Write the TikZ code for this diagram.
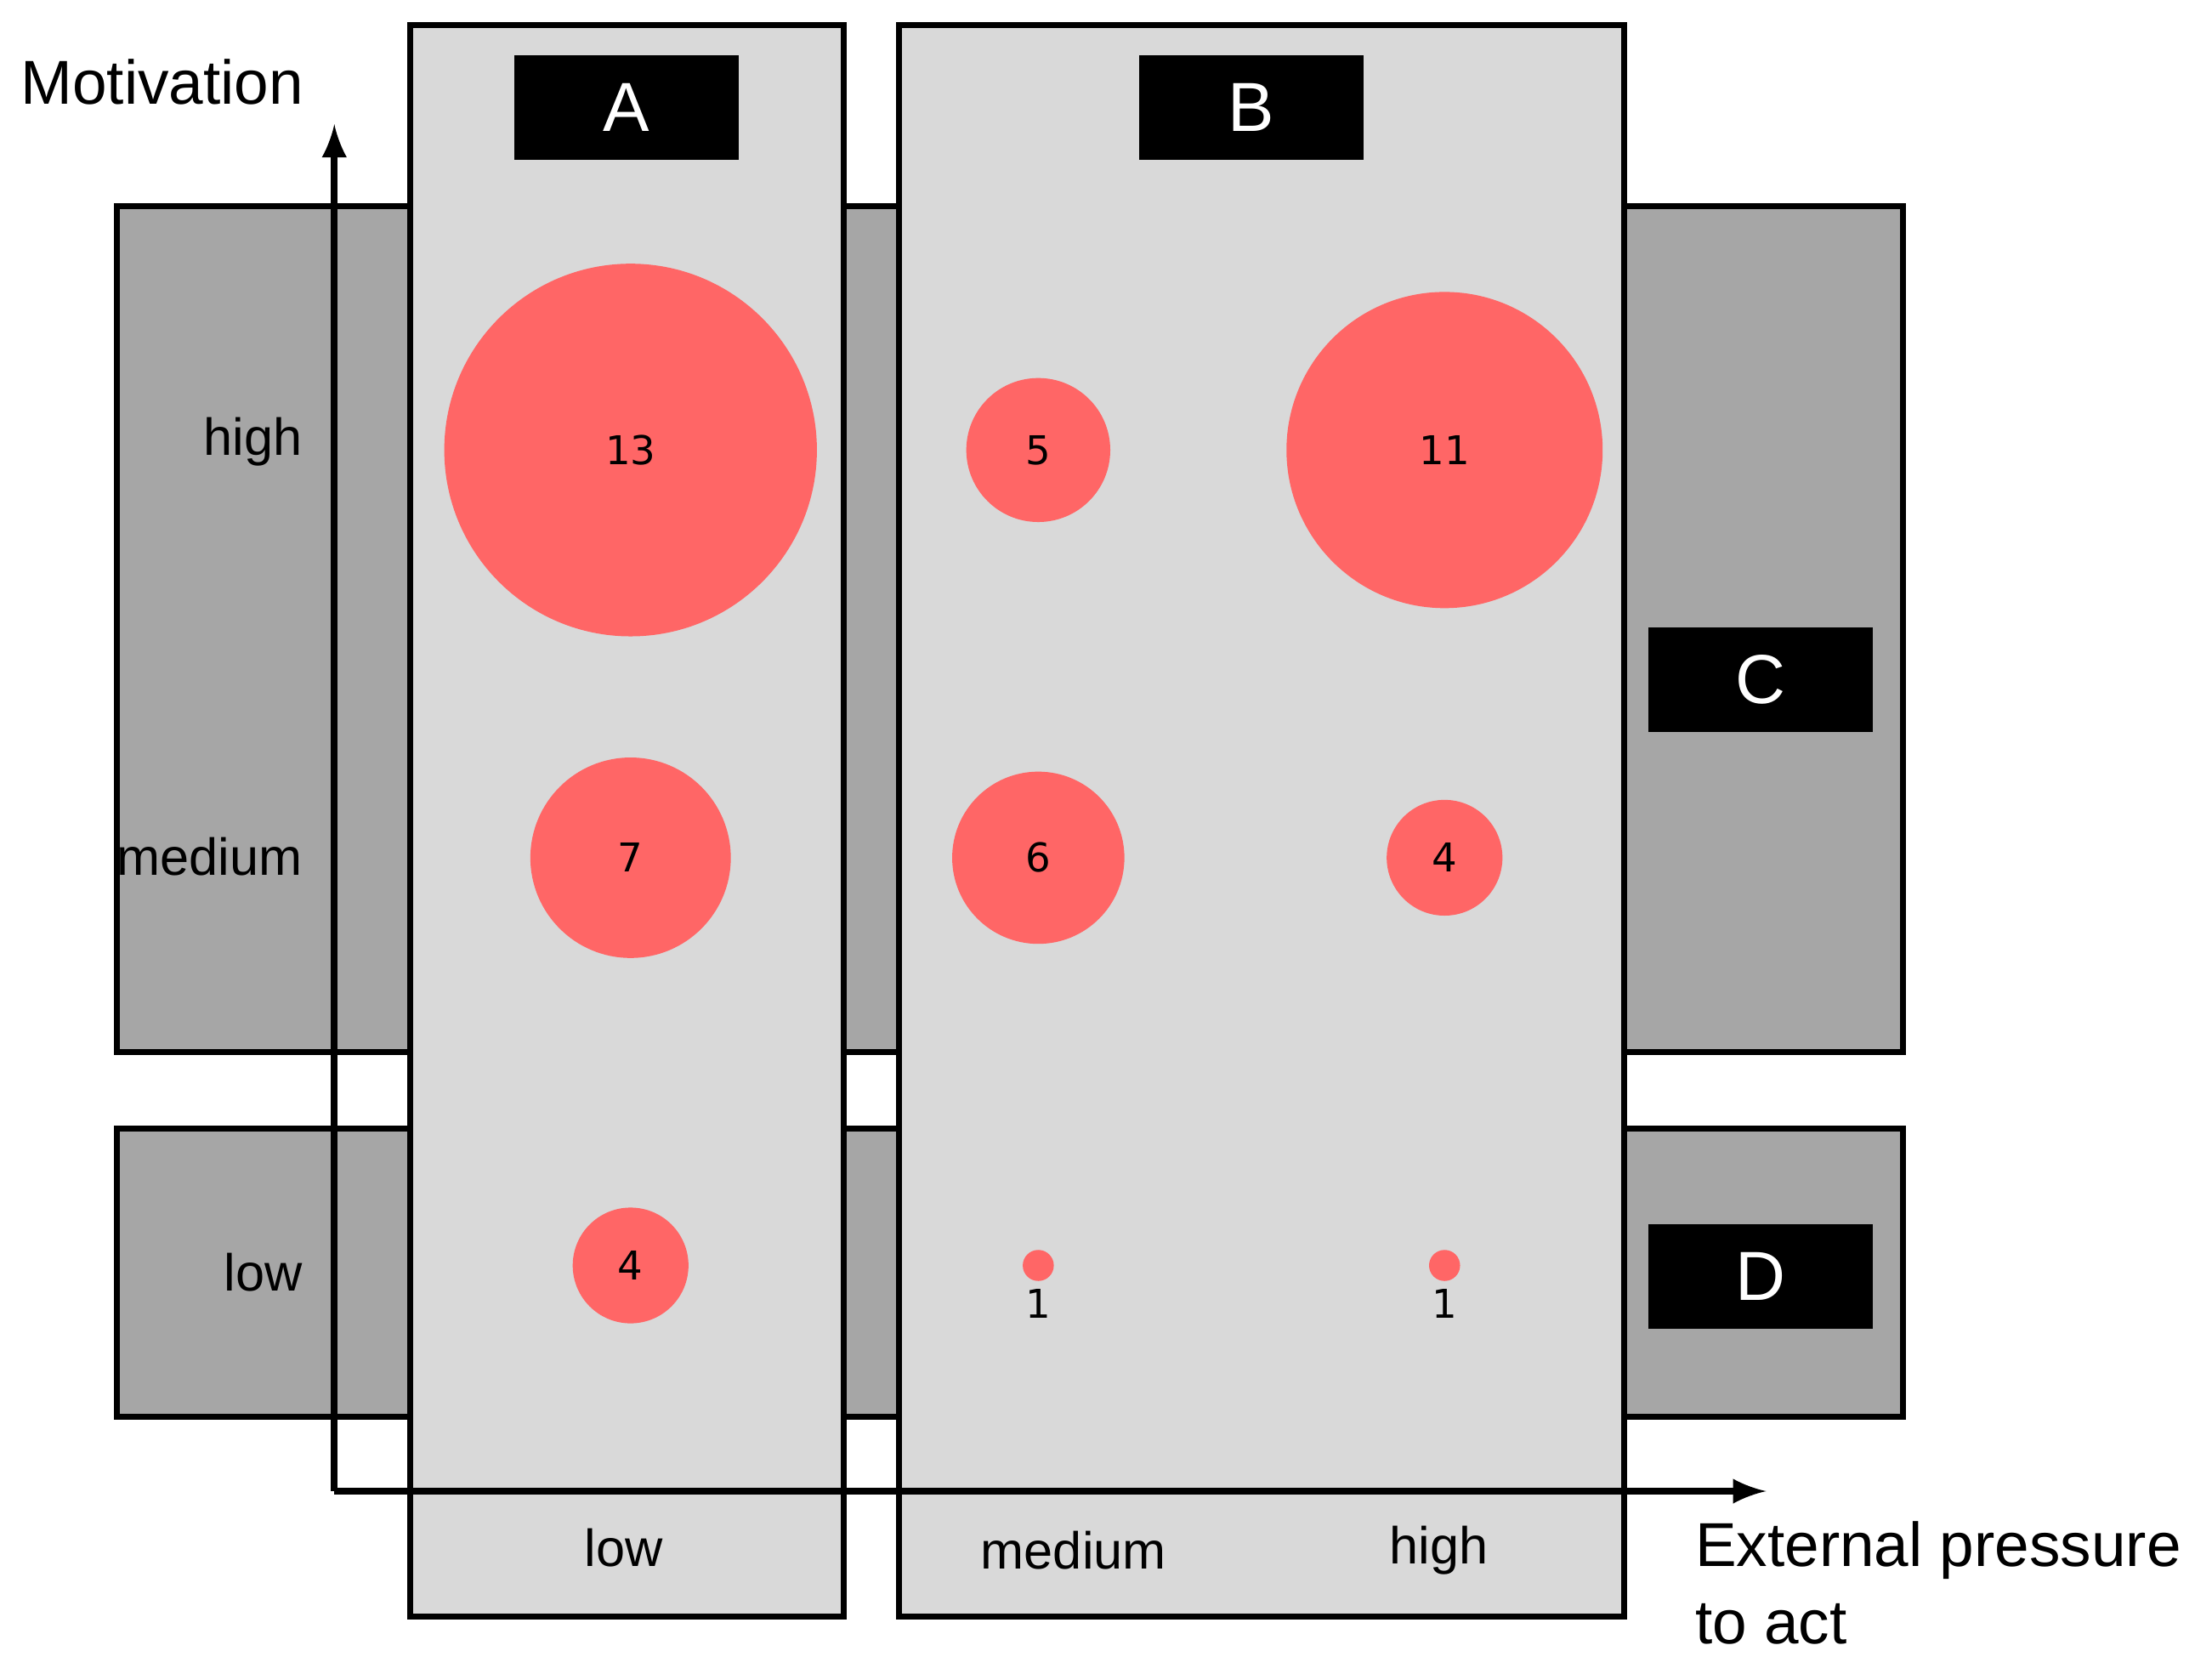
\documentclass[tikz,border=0pt]{standalone}
\usepackage{fontspec}
\setmainfont{Liberation Sans}
\newfontfamily\numf{DejaVu Sans}
\begin{document}
\begin{tikzpicture}[x=0.01cm,y=-0.01cm,
  dark/.style={fill=black!35,draw=black,line width=1.2pt},
  panel/.style={fill=black!15,draw=black,line width=1.2pt},
  tag/.style={fill=black,text=white,minimum width=1.59cm,minimum height=0.74cm,inner sep=0pt,font=\fontsize{14}{14}\selectfont},
  bub/.style={circle,fill={rgb,255:red,255;green,102;blue,102},inner sep=0pt},
  num/.style={font=\numf\fontsize{8}{9}\selectfont},
  lab/.style={font=\fontsize{10.5}{12}\selectfont},
  ax/.style={line width=1.3pt,-latex}]
\useasboundingbox (0,0) rectangle (1568,1182);
\draw[dark] (83,146) rectangle (1349,746);
\draw[dark] (83,800) rectangle (1349,1004);
\draw[panel] (291,18) rectangle (598,1146);
\draw[panel] (637,18) rectangle (1151,1146);
\node[tag] (A) at (444,76) {A};
\node[tag] (B) at (887,76) {B};
\node[tag] (C) at (1248,482) {C};
\node[tag] (D) at (1248,905) {D};
\coordinate (o) at (237,1057);
\coordinate (yt) at (237,88);
\coordinate (xt) at (1252,1057);
\draw[ax] (o) -- (yt);
\draw[ax] (o) -- (xt);
\node[font=\fontsize{12.5}{14}\selectfont] (mot) at (115,58) {Motivation};
\node[lab,anchor=east,inner sep=0pt] (lh) at (215,313) {high};
\node[lab,anchor=east,inner sep=0pt] (lm) at (215,607) {medium};
\node[lab,anchor=east,inner sep=0pt] (ll) at (215,902) {low};
\node[lab] (bl) at (442,1097) {low};
\node[lab] (bm) at (761,1099) {medium};
\node[lab] (bh) at (1020,1099) {high};
\node[font=\fontsize{12.5}{15.6}\selectfont,align=left,anchor=north west,inner sep=0pt] (ext) at (1201,1078) {External pressure\\to act};
\node[bub,minimum size=2.64cm,num] (c1) at (447,319) {13};
\node[bub,minimum size=1.42cm,num] (c2) at (447,608) {7};
\node[bub,minimum size=0.82cm,num] (c3) at (447,897) {4};
\node[bub,minimum size=1.02cm,num] (c4) at (736,319) {5};
\node[bub,minimum size=1.22cm,num] (c5) at (736,608) {6};
\node[bub,minimum size=0.22cm] (c6) at (736,897) {};
\node[num] (n6) at (736,924) {1};
\node[bub,minimum size=2.24cm,num] (c7) at (1024,319) {11};
\node[bub,minimum size=0.82cm,num] (c8) at (1024,608) {4};
\node[bub,minimum size=0.22cm] (c9) at (1024,897) {};
\node[num] (n9) at (1024,924) {1};
\end{tikzpicture}
\end{document}
